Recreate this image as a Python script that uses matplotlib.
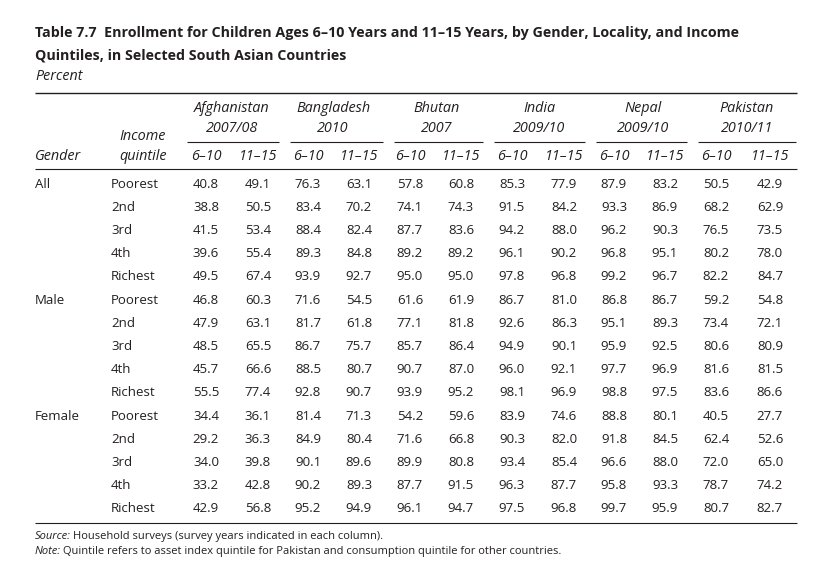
import matplotlib
matplotlib.use("Agg")
import matplotlib.pyplot as plt

# table content
title_1 = "Table 7.7  Enrollment for Children Ages 6\u201310 Years and 11\u201315 Years, by Gender, Locality, and Income"
title_2 = "Quintiles, in Selected South Asian Countries"
countries = ["Afghanistan", "Bangladesh", "Bhutan", "India", "Nepal", "Pakistan"]
years = ["2007/08", "2010", "2007", "2009/10", "2009/10", "2010/11"]
ages = ["6\u201310", "11\u201315"]
genders = ["All", "Male", "Female"]
quintiles = ["Poorest", "2nd", "3rd", "4th", "Richest"]

# columns: Afg 6-10, Afg 11-15, Ban ..., Bhu ..., Ind ..., Nep ..., Pak ...
all_vals = [
    [40.8, 49.1, 76.3, 63.1, 57.8, 60.8, 85.3, 77.9, 87.9, 83.2, 50.5, 42.9],
    [38.8, 50.5, 83.4, 70.2, 74.1, 74.3, 91.5, 84.2, 93.3, 86.9, 68.2, 62.9],
    [41.5, 53.4, 88.4, 82.4, 87.7, 83.6, 94.2, 88.0, 96.2, 90.3, 76.5, 73.5],
    [39.6, 55.4, 89.3, 84.8, 89.2, 89.2, 96.1, 90.2, 96.8, 95.1, 80.2, 78.0],
    [49.5, 67.4, 93.9, 92.7, 95.0, 95.0, 97.8, 96.8, 99.2, 96.7, 82.2, 84.7],
]
male_vals = [
    [46.8, 60.3, 71.6, 54.5, 61.6, 61.9, 86.7, 81.0, 86.8, 86.7, 59.2, 54.8],
    [47.9, 63.1, 81.7, 61.8, 77.1, 81.8, 92.6, 86.3, 95.1, 89.3, 73.4, 72.1],
    [48.5, 65.5, 86.7, 75.7, 85.7, 86.4, 94.9, 90.1, 95.9, 92.5, 80.6, 80.9],
    [45.7, 66.6, 88.5, 80.7, 90.7, 87.0, 96.0, 92.1, 97.7, 96.9, 81.6, 81.5],
    [55.5, 77.4, 92.8, 90.7, 93.9, 95.2, 98.1, 96.9, 98.8, 97.5, 83.6, 86.6],
]
female_vals = [
    [34.4, 36.1, 81.4, 71.3, 54.2, 59.6, 83.9, 74.6, 88.8, 80.1, 40.5, 27.7],
    [29.2, 36.3, 84.9, 80.4, 71.6, 66.8, 90.3, 82.0, 91.8, 84.5, 62.4, 52.6],
    [34.0, 39.8, 90.1, 89.6, 89.9, 80.8, 93.4, 85.4, 96.6, 88.0, 72.0, 65.0],
    [33.2, 42.8, 90.2, 89.3, 87.7, 91.5, 96.3, 87.7, 95.8, 93.3, 78.7, 74.2],
    [42.9, 56.8, 95.2, 94.9, 96.1, 94.7, 97.5, 96.8, 99.7, 95.9, 80.7, 82.7],
]
source_text = "Household surveys (survey years indicated in each column)."
note_text = "Quintile refers to asset index quintile for Pakistan and consumption quintile for other countries."

INK = "#231f20"
FONT = "Open Sans"
W, H = 823, 580

fig = plt.figure(figsize=(W / 100, H / 100), dpi=100)
ax = fig.add_axes([0, 0, 1, 1])
ax.set_xlim(0, W)
ax.set_ylim(H, 0)
ax.axis("off")

left = 35
right = 797
col_x = [206, 258, 308, 359, 410, 461, 512, 564, 614, 665, 716, 770]
group_x = [232, 333, 437, 539, 643, 747]
group_span = [(187, 279), (290, 383), (394, 483), (494, 585), (596, 687), (698, 796)]
row_y0 = 184
row_dy = 23.2

fig.canvas.draw()
renderer = fig.canvas.get_renderer()

# title, sized to the width of the original line
t1 = ax.text(left, 33, title_1, fontsize=10, fontweight="bold", family=FONT,
             color=INK, va="center", ha="left")
w1 = t1.get_window_extent(renderer).width
fs_title = 10 * 706 / w1
t1.set_fontsize(fs_title)
ax.text(left, 55, title_2, fontsize=fs_title, fontweight="bold", family=FONT,
        color=INK, va="center", ha="left")
ax.text(left, 77, "Percent", fontsize=10.3, style="italic", family=FONT,
        color=INK, va="center", ha="left")

# rules
ax.plot([left, right], [93, 93], color=INK, lw=1.0, solid_capstyle="butt")
ax.plot([left, right], [169, 169], color=INK, lw=0.8, solid_capstyle="butt")
for a, b in group_span:
    ax.plot([a, b], [142, 142], color=INK, lw=0.8, solid_capstyle="butt")

# header
hdr = dict(fontsize=10.4, style="italic", family=FONT, color=INK, va="center")
for gx, c, yr in zip(group_x, countries, years):
    ax.text(gx, 108, c, ha="center", **hdr)
    ax.text(gx, 129, yr, ha="center", **hdr)
ax.text(143, 136, "Income", ha="center", **hdr)
ax.text(143, 157, "quintile", ha="center", **hdr)
ax.text(left, 157, "Gender", ha="left", **hdr)
for i, cx in enumerate(col_x):
    ax.text(cx, 157, ages[i % 2], ha="center", **hdr)

# body
body = dict(fontsize=9.5, family=FONT, color=INK, va="center")
row = 0
for g, block in zip(genders, [all_vals, male_vals, female_vals]):
    for q, vals in zip(quintiles, block):
        y = row_y0 + row * row_dy
        if q == quintiles[0]:
            ax.text(left, y, g, ha="left", **body)
        ax.text(111, y, q, ha="left", **body)
        for cx, v in zip(col_x, vals):
            ax.text(cx, y, f"{v:.1f}", ha="center", **body)
        row += 1

bottom_rule = row_y0 + (row - 1) * row_dy + 14
ax.plot([left, right], [bottom_rule, bottom_rule], color=INK, lw=0.8, solid_capstyle="butt")

# source and note, italic lead-in then regular text
foot = dict(fontsize=8.0, family=FONT, color=INK, va="center", ha="left")
inv = ax.transData.inverted()
for y, lead, txt in [(bottom_rule + 14, "Source:", source_text),
                     (bottom_rule + 29, "Note:", note_text)]:
    t = ax.text(left, y, lead, style="italic", **foot)
    bb = t.get_window_extent(renderer)
    x_end = inv.transform((bb.x1, bb.y0))[0]
    ax.text(x_end + 2, y, txt, **foot)

fig.savefig("out.png", dpi=100)
